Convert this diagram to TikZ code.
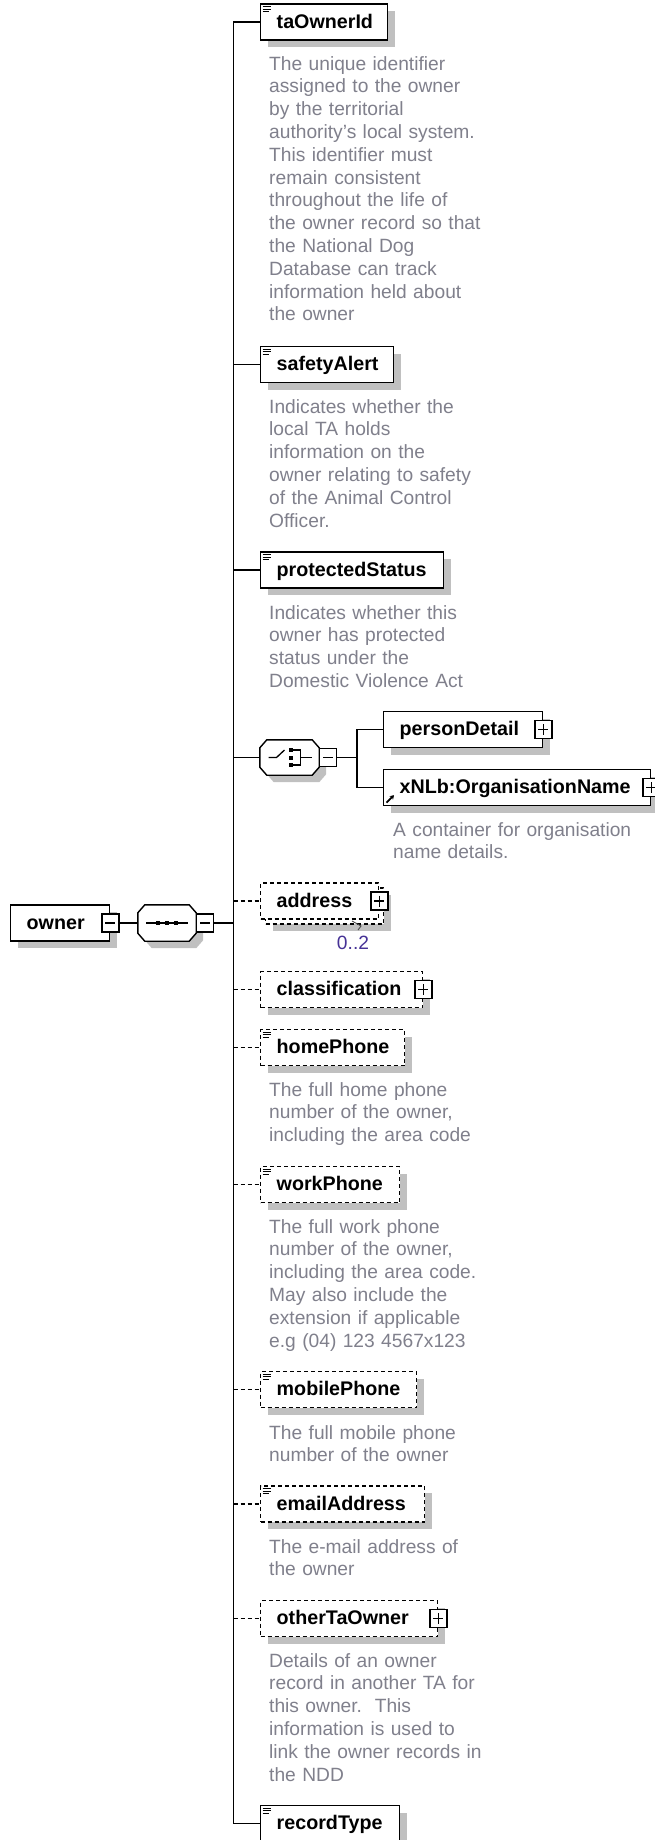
\documentclass[tikz,border=0pt]{standalone}
\usepackage{fontspec}
\setmainfont{Liberation Sans}
\usetikzlibrary{shadows,arrows.meta}
\definecolor{descgray}{RGB}{128,128,140}
\definecolor{shadowgray}{RGB}{192,192,192}
\definecolor{multcol}{RGB}{70,50,150}
\newcommand\lblfont{\fontsize{19.7}{24}\selectfont\bfseries}
\newcommand\dscfont{\fontsize{19.2}{22.8}\selectfont}
\newcommand\octo[1]{([xshift=7pt]#1.north west) -- ([xshift=-7pt]#1.north east) -- ([yshift=-8pt]#1.north east) -- ([yshift=8pt]#1.south east) -- ([xshift=-7pt]#1.south east) -- ([xshift=7pt]#1.south west) -- ([yshift=8pt]#1.south west) -- ([yshift=-8pt]#1.north west) -- cycle}
\newcommand\docicon[1]{\draw[line width=0.9pt] ([xshift=2.5pt,yshift=-3.5pt]#1.north west) -- ++(8,0) ([xshift=2.5pt,yshift=-6pt]#1.north west) -- ++(8,0) ([xshift=2.5pt,yshift=-8.5pt]#1.north west) -- ++(6,0);}
\begin{document}
\begin{tikzpicture}[x=1pt,y=-1pt,
  shadowed/.style={drop shadow={shadow xshift=7pt,shadow yshift=-7pt,fill=shadowgray,opacity=1}},
  elembase/.style={draw=black,line width=1.4pt,fill=white,anchor=west,minimum height=36pt,inner xsep=16pt,inner ysep=0pt,align=left,font=\lblfont,text height=15pt,text depth=3pt},
  elem/.style={elembase,shadowed},
  optelem/.style={elem,dash pattern=on 4pt off 3pt},
  optfront/.style={elembase,dash pattern=on 4pt off 3pt},
  comp/.style={inner sep=0pt,minimum width=58pt,minimum height=36pt},
  octline/.style={draw=black,line width=1.4pt,fill=white},
  expbase/.style={draw=black,line width=1.2pt,fill=white,minimum width=17pt,minimum height=18pt,inner sep=0pt},
  plusbox/.style={expbase,path picture={\draw[line width=1.1pt] ([xshift=3.5pt]path picture bounding box.west) -- ([xshift=-3.5pt]path picture bounding box.east) ([yshift=-3.5pt]path picture bounding box.north) -- ([yshift=3.5pt]path picture bounding box.south);}},
  minusbox/.style={expbase,path picture={\draw[line width=1.1pt] ([xshift=3.5pt]path picture bounding box.west) -- ([xshift=-3.5pt]path picture bounding box.east);}},
  conn/.style={draw=black,line width=1.4pt},
  optconn/.style={conn,dash pattern=on 4pt off 3pt},
  desc/.style={anchor=base west,inner sep=0pt,text width=300pt,align=left,font=\dscfont,text=descgray}
]
\fill[white] (0,0) rectangle (655,1840);
\useasboundingbox (0,0) rectangle (655,1840);

% root and sequence
\node[elem,text width=67pt] (owner) at (10,923) {owner};
\node[minusbox] (ownerx) at (owner.east) {};
\node[comp] (seq) at (167,923) {};
\fill[shadowgray,transform canvas={shift={(7pt,-7pt)}}] \octo{seq};
\path[octline] \octo{seq};
\node[minusbox,anchor=west] (seqx) at (seq.east) {};
\begin{scope}[shift={(seq.center)}]
  \draw[line width=1.3pt] (-21,0) -- (21,0);
  \fill (-11,-2) rectangle (-7,2);
  \fill (-2,-2) rectangle (2,2);
  \fill (7,-2) rectangle (11,2);
\end{scope}

% children
\node[elem,text width=95pt] (taOwnerId) at (260,22) {taOwnerId};
\node[elem,text width=101pt] (safetyAlert) at (260,364.5) {safetyAlert};
\node[elem,text width=151pt] (protectedStatus) at (260,570) {protectedStatus};

\node[comp,minimum width=59pt,minimum height=35pt] (choice) at (289.5,757.5) {};
\fill[shadowgray,transform canvas={shift={(7pt,-7pt)}}] \octo{choice};
\path[octline] \octo{choice};
\node[minusbox,anchor=west] (choicex) at (choice.east) {};
\begin{scope}[shift={(choice.center)}]
  \draw[line width=1.3pt] (-21,0) -- (-13,0) -- (-5,-7.5);
  \fill (-1,-9.5) rectangle (3,-5.5);
  \fill (-1,-2) rectangle (3,2);
  \fill (-1,5.5) rectangle (3,9.5);
  \draw[line width=1.3pt] (3,-7.5) -- (11,-7.5) -- (11,7.5) -- (3,7.5) (11,0) -- (22,0);
\end{scope}

\node[elem,text width=127pt] (personDetail) at (383,729.5) {personDetail};
\node[plusbox] (personDetailx) at (personDetail.east) {};
\node[elem,text width=235pt] (orgName) at (383,787.5) {xNLb:OrganisationName};
\node[plusbox] (orgNamex) at (orgName.east) {};
\draw[line width=1.8pt,-{Stealth[length=4pt,width=5pt]}] ([xshift=3.5pt,yshift=3.5pt]orgName.south west) -- ([xshift=11pt,yshift=11pt]orgName.south west);

\node[optelem,text width=86pt] (addressback) at (265,906) {};
\node[optfront,text width=86pt] (address) at (260,901) {address};
\node[plusbox] (addressx) at (address.east) {};
\draw[line width=0.9pt,black!70] (352,921) -- (361,926) -- (358,930);
\node[font=\dscfont,text=multcol,inner sep=0pt] (addressmult) at (353,943) {0..2};

\node[optelem,text width=130pt] (classification) at (260,989.5) {classification};
\node[plusbox] (classificationx) at (classification.east) {};
\node[optelem,text width=112pt] (homePhone) at (260,1047.5) {homePhone};
\node[optelem,text width=107pt] (workPhone) at (260,1184.5) {workPhone};
\node[optelem,text width=124pt] (mobilePhone) at (260,1389.5) {mobilePhone};
\node[optelem,text width=132pt] (emailAddress) at (260,1504) {emailAddress};
\node[optelem,text width=145pt] (otherTaOwner) at (260,1618.5) {otherTaOwner};
\node[plusbox] (otherTaOwnerx) at (otherTaOwner.east) {};
\node[elem,text width=107pt] (recordType) at (260,1823.5) {recordType};

\foreach \n in {taOwnerId,safetyAlert,protectedStatus,homePhone,workPhone,mobilePhone,emailAddress,recordType}{\docicon{\n}}

% connectors
\coordinate (tx) at (233.5,0);
\coordinate (bx) at (357,0);
\draw[conn] (ownerx.east) -- (seq.west);
\draw[conn] (seqx.east) -- (tx |- seqx.east);
\draw[conn] (taOwnerId.west) -| (tx |- recordType.west) -- (recordType.west);
\draw[conn] (tx |- safetyAlert.west) -- (safetyAlert.west);
\draw[conn] (tx |- protectedStatus.west) -- (protectedStatus.west);
\draw[conn] (tx |- choice.west) -- (choice.west);
\draw[conn] (choicex.east) -- (bx |- choicex.east);
\draw[conn] (personDetail.west) -| (bx |- orgName.west) -- (orgName.west);
\draw[optconn] (tx |- address.west) -- (address.west);
\draw[optconn] (tx |- classification.west) -- (classification.west);
\draw[optconn] (tx |- homePhone.west) -- (homePhone.west);
\draw[optconn] (tx |- workPhone.west) -- (workPhone.west);
\draw[optconn] (tx |- mobilePhone.west) -- (mobilePhone.west);
\draw[optconn] (tx |- emailAddress.west) -- (emailAddress.west);
\draw[optconn] (tx |- otherTaOwner.west) -- (otherTaOwner.west);

% descriptions
\node[desc] (taOwnerIdDesc) at (269,70) {The unique identifier\\assigned to the owner\\by the territorial\\authority's local system.\\This identifier must\\remain consistent\\throughout the life of\\the owner record so that\\the National Dog\\Database can track\\information held about\\the owner};
\node[desc] (safetyAlertDesc) at (269,413) {Indicates whether the\\local TA holds\\information on the\\owner relating to safety\\of the Animal Control\\Officer.};
\node[desc] (protectedStatusDesc) at (269,619) {Indicates whether this\\owner has protected\\status under the\\Domestic Violence Act};
\node[desc] (orgNameDesc) at (393,836) {A container for organisation\\name details.};
\node[desc] (homePhoneDesc) at (269,1096) {The full home phone\\number of the owner,\\including the area code};
\node[desc] (workPhoneDesc) at (269,1233) {The full work phone\\number of the owner,\\including the area code.\\May also include the\\extension if applicable\\e.g (04) 123 4567x123};
\node[desc] (mobilePhoneDesc) at (269,1439) {The full mobile phone\\number of the owner};
\node[desc] (emailAddressDesc) at (269,1553) {The e-mail address of\\the owner};
\node[desc] (otherTaOwnerDesc) at (269,1667) {Details of an owner\\record in another TA for\\this owner.\ \ This\\information is used to\\link the owner records in\\the NDD};
\end{tikzpicture}
\end{document}
